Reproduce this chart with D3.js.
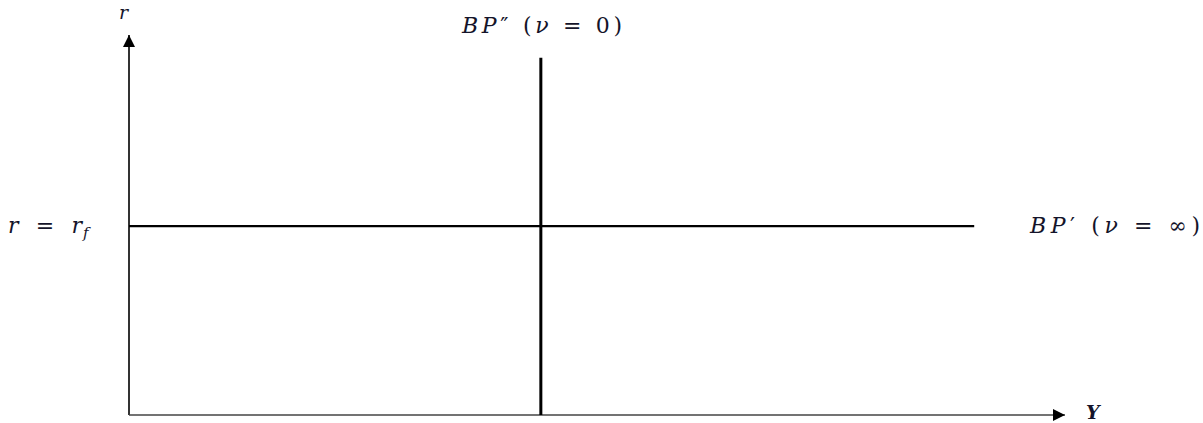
<!DOCTYPE html>
<html>
<head>
<meta charset="utf-8">
<script src="https://cdn.jsdelivr.net/npm/d3@7"></script>
<style>
  body { margin: 0; background: #fff; }
  text { font-family: "DejaVu Serif", "Liberation Serif", serif; fill: #14142a; }
  .it { font-style: italic; }
</style>
</head>
<body>
<svg id="chart"></svg>
<script>
// axis extents (domain units)
var axisX = [0, 10];
var axisY = [0, 10];
// BP' : horizontal, perfect capital mobility at r = rf
var bpPrimeX = [0, 9.03];
var bpPrimeR = [4.97, 4.97];
// BP'' : vertical, no capital mobility
var bpDoubleX = [4.4, 4.4];
var bpDoubleR = [0, 9.4];

var size = { width: 1203, height: 423, left: 129, right: 1065, top: 35, bottom: 415 };

var x = d3.scaleLinear().domain(axisX).range([size.left, size.right]);
var y = d3.scaleLinear().domain(axisY).range([size.bottom, size.top]);

var svg = d3.select('#chart')
  .attr('width', size.width)
  .attr('height', size.height);

var defs = svg.append('defs');
defs.append('marker')
  .attr('id', 'arrow')
  .attr('viewBox', '0 0 10 10')
  .attr('refX', 10).attr('refY', 5)
  .attr('markerWidth', 13).attr('markerHeight', 12)
  .attr('markerUnits', 'userSpaceOnUse')
  .attr('orient', 'auto')
  .append('path')
    .attr('d', 'M0,0 L10,5 L0,10 Z')
    .attr('fill', '#000');

var line = d3.line().x(d => x(d[0])).y(d => y(d[1]));

// axes
svg.append('path')
  .attr('d', line([[axisX[0], axisY[0]], [axisX[0], axisY[1]]]))
  .attr('stroke', '#333').attr('stroke-width', 2).attr('fill', 'none')
  .attr('marker-end', 'url(#arrow)');
svg.append('path')
  .attr('d', line([[axisX[0], axisY[0]], [axisX[1], axisY[0]]]))
  .attr('stroke', '#444').attr('stroke-width', 1.5).attr('fill', 'none')
  .attr('marker-end', 'url(#arrow)');

// BP curves
svg.append('path')
  .attr('d', line(d3.zip(bpPrimeX, bpPrimeR)))
  .attr('stroke', '#000').attr('stroke-width', 2.2).attr('fill', 'none');
svg.append('path')
  .attr('d', line(d3.zip(bpDoubleX, bpDoubleR)))
  .attr('stroke', '#000').attr('stroke-width', 3).attr('fill', 'none');

// math label helper: parts are [string, italic?]
var mathLabel = (px, py, fs, width, parts) => {
  var t = svg.append('text').attr('x', px).attr('y', py).attr('font-size', fs);
  if (width) t.attr('textLength', width).attr('lengthAdjust', 'spacing');
  parts.forEach(p => {
    var s = t.append('tspan').text(p[0]);
    if (p[1]) s.attr('class', 'it');
  });
  return t;
};

mathLabel(119, 19, 19, null, [['r', true]]);
mathLabel(x(axisX[1]) + 21, y(0) + 4, 19, null, [['Y', true]]).attr('font-weight', 'bold');

mathLabel(462, 33, 22, 160, [['BP', true], ['″ (', false], ['ν', true], [' = 0)', false]]);

mathLabel(8, y(bpPrimeR[0]) + 7, 22, 74, [['r', true], [' = ', false], ['r', true]]);
svg.append('text').attr('class', 'it')
  .attr('x', 83).attr('y', y(bpPrimeR[0]) + 12)
  .attr('font-size', 15).text('f');

mathLabel(1030, y(bpPrimeR[0]) + 7, 22, 170, [['BP', true], ['′ (', false], ['ν', true], [' = ∞)', false]]);
</script>
</body>
</html>
